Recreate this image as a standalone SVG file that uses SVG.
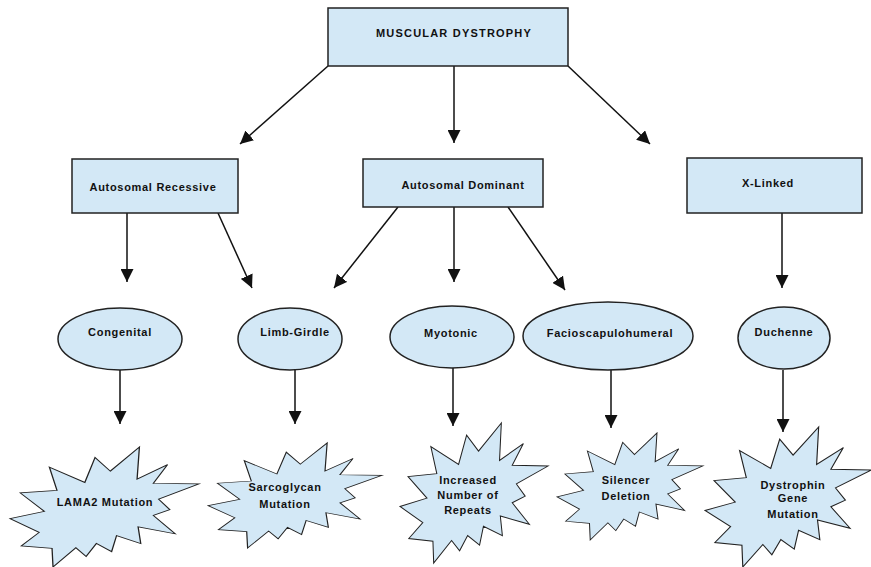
<svg xmlns="http://www.w3.org/2000/svg" xmlns:xlink="http://www.w3.org/1999/xlink" width="871" height="567" viewBox="0 0 871 567">
<style>
.shape{fill:#d3e8f6;stroke:#222;stroke-width:1.5}
.seal{fill:#d3e8f6;stroke:#222;stroke-width:1.5;vector-effect:non-scaling-stroke}
.lbl{font-family:"Liberation Sans",Arial,sans-serif;font-size:11px;font-weight:bold;fill:#111;text-anchor:middle;letter-spacing:0.7px}
.conn line{stroke:#111;stroke-width:1.5;marker-end:url(#ah)}
</style>
<defs>
<marker id="ah" markerUnits="userSpaceOnUse" markerWidth="13" markerHeight="13" refX="13" refY="6.5" orient="auto" viewBox="0 0 13 13">
<path d="M0,0 L13,6.5 L0,13 Z" fill="#111"/>
</marker>
<path id="seal" d="M114.62,43.42 L147.9,0 L145.25,57.77 L180.07,31.72 L163.8,65.32 L216,66.45 L169.85,94.02 L182.7,112.9 L163.8,123.1 L188.77,156.32 L146.4,143.5 L149.42,173.7 L121.8,159.35 L116.12,188.42 L98.72,173.7 L87,197.12 L75.27,181.25 L49.17,216 L48.05,182.4 L12.85,178.25 L33.3,153.7 L0,128.77 L39.35,115.92 L11.72,82.7 L53.72,78.17 L45.02,36.25 L85.5,63.82 L97.22,18.87 Z"/>
</defs>
<rect width="871" height="567" fill="#fff"/>
<g class="conn">
<line x1="328" y1="66" x2="240" y2="144"/>
<line x1="454" y1="66" x2="454" y2="143"/>
<line x1="568" y1="66" x2="650" y2="144"/>
<line x1="127" y1="213" x2="127" y2="282"/>
<line x1="218" y1="213" x2="252" y2="288"/>
<line x1="398" y1="207" x2="334" y2="288"/>
<line x1="454" y1="207" x2="454" y2="282"/>
<line x1="508" y1="207" x2="565" y2="290"/>
<line x1="782" y1="213" x2="782" y2="288"/>
<line x1="120" y1="370" x2="120" y2="424"/>
<line x1="295" y1="370" x2="295" y2="424"/>
<line x1="453" y1="368" x2="453" y2="426"/>
<line x1="611" y1="370" x2="611" y2="428"/>
<line x1="783" y1="370" x2="783" y2="432"/>
</g>
<g id="muscular-dystrophy">
<rect class="shape" x="328" y="8" width="240" height="58"/>
<text class="lbl" x="454" y="37" style="letter-spacing:1.2px">MUSCULAR DYSTROPHY</text>
</g>
<g id="autosomal-recessive">
<rect class="shape" x="72" y="159" width="166" height="54"/>
<text class="lbl" x="153" y="191">Autosomal Recessive</text>
</g>
<g id="autosomal-dominant">
<rect class="shape" x="363" y="159" width="180" height="48"/>
<text class="lbl" x="463" y="189">Autosomal Dominant</text>
</g>
<g id="x-linked">
<rect class="shape" x="687" y="158" width="175" height="55"/>
<text class="lbl" x="768" y="187">X-Linked</text>
</g>
<g id="congenital">
<ellipse class="shape" cx="120" cy="339" rx="62" ry="31"/>
<text class="lbl" x="120" y="336">Congenital</text>
</g>
<g id="limb-girdle">
<ellipse class="shape" cx="290" cy="339" rx="52" ry="31"/>
<text class="lbl" x="295" y="336">Limb-Girdle</text>
</g>
<g id="myotonic">
<ellipse class="shape" cx="452" cy="337" rx="62" ry="31"/>
<text class="lbl" x="451" y="337">Myotonic</text>
</g>
<g id="facioscapulohumeral">
<ellipse class="shape" cx="608" cy="336" rx="85" ry="34"/>
<text class="lbl" x="610" y="337">Facioscapulohumeral</text>
</g>
<g id="duchenne">
<ellipse class="shape" cx="784" cy="338" rx="46" ry="31"/>
<text class="lbl" x="784" y="336">Duchenne</text>
</g>
<g id="lama2-mutation">
<use xlink:href="#seal" class="seal" transform="translate(10,447) scale(0.875,0.5556)"/>
<text class="lbl" x="105" y="506">LAMA2 Mutation</text>
</g>
<g id="sarcoglycan-mutation">
<use xlink:href="#seal" class="seal" transform="translate(208,443) scale(0.8056,0.4861)"/>
<text class="lbl" x="285" y="491">Sarcoglycan</text>
<text class="lbl" x="285" y="508">Mutation</text>
</g>
<g id="increased-repeats">
<use xlink:href="#seal" class="seal" transform="translate(400,423) scale(0.6852,0.6481)"/>
<text class="lbl" x="468" y="484">Increased</text>
<text class="lbl" x="468" y="499">Number of</text>
<text class="lbl" x="468" y="514">Repeats</text>
</g>
<g id="silencer-deletion">
<use xlink:href="#seal" class="seal" transform="translate(557,433) scale(0.6759,0.4954)"/>
<text class="lbl" x="626" y="484">Silencer</text>
<text class="lbl" x="626" y="500">Deletion</text>
</g>
<g id="dystrophin-gene-mutation">
<use xlink:href="#seal" class="seal" transform="translate(705,427) scale(0.7685,0.6481)"/>
<text class="lbl" x="793" y="489">Dystrophin</text>
<text class="lbl" x="793" y="502">Gene</text>
<text class="lbl" x="793" y="518">Mutation</text>
</g>
</svg>
